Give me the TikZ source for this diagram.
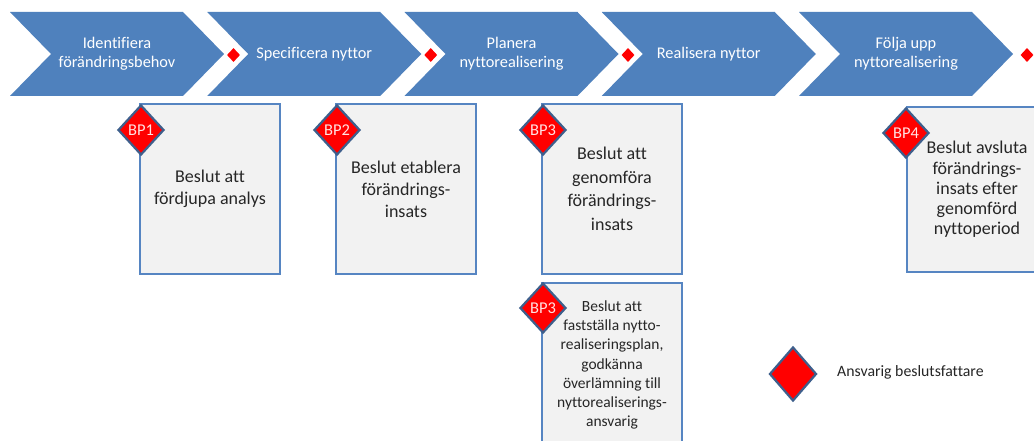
\documentclass[tikz,border=0pt]{standalone}
\usepackage{fontspec}
\setmainfont{Carlito}[Ligatures=NoCommon]
\usetikzlibrary{shapes.geometric}
\definecolor{chev}{HTML}{4F81BD}
\definecolor{boxline}{HTML}{5685C2}
\definecolor{boxfill}{HTML}{F2F2F2}
\definecolor{dline}{HTML}{3E5F8C}
\definecolor{bptext}{HTML}{FFE2E2}
\definecolor{txt}{HTML}{262626}
\begin{document}
\begin{tikzpicture}[x=1pt,y=-1pt,
  chevtext/.style={text=white,align=center,font=\fontsize{16.3pt}{19pt}\selectfont},
  smalld/.style={shape=diamond,fill=red,minimum width=13pt,minimum height=14pt,inner sep=0pt},
  bpbox/.style={draw=boxline,fill=boxfill,line width=2.2pt,minimum width=140pt,align=center,text=txt,inner sep=0pt},
  bigfont/.style={font=\fontsize{18pt}{22pt}\selectfont},
  bpd/.style={shape=diamond,fill=red,draw=dline,line width=2.2pt,minimum width=46pt,minimum height=50pt,inner sep=0pt,text=bptext,font=\fontsize{16.5pt}{18pt}\selectfont}
]
\useasboundingbox (0,0) rectangle (1034,441);
\clip (0,0) rectangle (1034,441);
\fill[white] (0,0) rectangle (1034,441);

% chevrons
\foreach \i/\t in {0/{Identifiera\\förändringsbehov},1/{Specificera nyttor},2/{Planera\\nyttorealisering},3/{Realisera nyttor},4/{Följa upp\\nyttorealisering}}{
  \pgfmathsetmacro\L{10+197.25*\i}
  \fill[chev] (\L,12) -- ++(173,0) -- ++(41,42) -- ++(-41,42) -- ++(-173,0) -- ++(41,-42) -- cycle;
  \node[chevtext] (c\i) at (\L+107,54) {\t};
}

% small decision diamonds
\node[smalld] (s1) at (233.5,55) {};
\node[smalld] (s2) at (430.75,55) {};
\node[smalld] (s3) at (628,55) {};
\node[smalld] (s5) at (1027,55) {};

% boxes
\node[bpbox,bigfont,minimum height=170pt] (b1) at (210,189) {Beslut att\\fördjupa analys};
\node[bpbox,bigfont,minimum height=170pt] (b2) at (406,189) {Beslut etablera\\förändrings-\\insats};
\node[bpbox,font=\fontsize{18pt}{23.5pt}\selectfont,minimum height=170pt] (b3) at (612,189) {Beslut att\\genomföra\\förändrings-\\insats};
\node[bpbox,font=\fontsize{15.5pt}{19.3pt}\selectfont,minimum height=164pt] (b4) at (612,365) {Beslut att\\fastställa nytto-\\realiseringsplan,\\godkänna\\överlämning till\\nyttorealiserings-\\ansvarig};
\node[bpbox,font=\fontsize{18pt}{20.2pt}\selectfont,minimum height=165pt] (b5) at (977,189.5) {Beslut avsluta\\förändrings-\\insats efter\\genomförd\\nyttoperiod};

% BP diamonds
\node[bpd] (d1) at (141,130) {BP1};
\node[bpd] (d2) at (337,130) {BP2};
\node[bpd] (d3) at (543,130) {BP3};
\node[bpd] (d4) at (543,308) {BP3};
\node[bpd] (d5) at (906,133) {BP4};

% legend
\node[bpd,minimum width=47pt,minimum height=54pt] (leg) at (793,374) {};
\node[anchor=west,text=txt,font=\fontsize{15.8pt}{18pt}\selectfont,inner sep=0pt] (legt) at (837,372) {Ansvarig beslutsfattare};
\end{tikzpicture}
\end{document}
